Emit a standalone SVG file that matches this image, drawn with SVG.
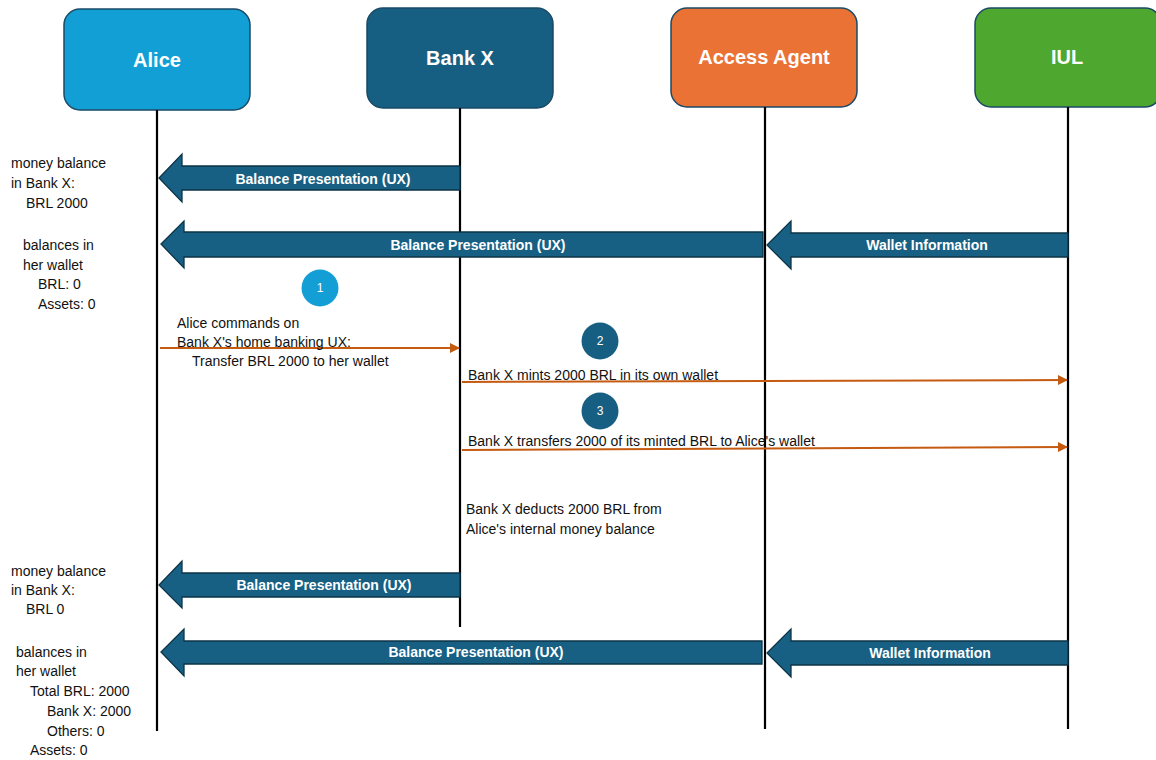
<svg xmlns="http://www.w3.org/2000/svg" width="1156" height="760" viewBox="0 0 1156 760">
<style>
.node rect{stroke:#1a4a66;stroke-width:1.5}
.ntxt{font-family:"Liberation Sans",Arial,sans-serif;font-weight:bold;font-size:20px;fill:#fff;text-anchor:middle}
.life{stroke:#000;stroke-width:2.2;fill:none}
.barrow{fill:#176083;stroke:#0d3347;stroke-width:1.3}
.btxt{font-family:"Liberation Sans",Arial,sans-serif;font-weight:bold;font-size:14px;fill:#fff;text-anchor:middle}
.msg{stroke:#c55a11;stroke-width:2;fill:none;marker-end:url(#oh)}
.t{font-family:"Liberation Sans",Arial,sans-serif;font-size:14px;fill:#111}
.num{font-family:"Liberation Sans",Arial,sans-serif;font-size:12px;fill:#fff;text-anchor:middle}
</style>
<defs>
<marker id="oh" viewBox="0 0 10 10" refX="9" refY="5" markerWidth="5" markerHeight="5" orient="auto" markerUnits="strokeWidth">
<path d="M0,0 L10,5 L0,10 Z" fill="#c55a11"/>
</marker>
</defs>
<rect width="1156" height="760" fill="#fff"/>

<g id="alice" class="node">
<rect x="64" y="9" width="186" height="101" rx="16" fill="#129fd6"/>
<text class="ntxt" x="157" y="67">Alice</text>
</g>
<g id="bankx" class="node">
<rect x="367" y="8" width="186" height="100" rx="16" fill="#175f82"/>
<text class="ntxt" x="460" y="65">Bank X</text>
</g>
<g id="accessagent" class="node">
<rect x="671" y="8" width="186" height="99" rx="16" fill="#ea7234"/>
<text class="ntxt" x="764" y="64">Access Agent</text>
</g>
<g id="iul" class="node">
<rect x="975" y="8" width="186" height="99" rx="16" fill="#4ea72e"/>
<text class="ntxt" x="1067" y="64">IUL</text>
</g>

<g id="connectors">
<line class="life" x1="157" y1="110" x2="157" y2="731"/>
<line class="life" x1="460" y1="108" x2="460" y2="627"/>
<line class="life" x1="765" y1="107" x2="765" y2="729"/>
<line class="life" x1="1068" y1="107" x2="1068" y2="729"/>

<polygon class="barrow" points="460,166 182,166 182,154 159,178 182,202 182,190 460,190"/>
<text class="btxt" x="323" y="184">Balance Presentation (UX)</text>

<polygon class="barrow" points="763,232 184,232 184,221 161,244 184,268 184,257 763,257"/>
<text class="btxt" x="478" y="250">Balance Presentation (UX)</text>

<polygon class="barrow" points="1068,233 791,233 791,221 767,245 791,269 791,257 1068,257"/>
<text class="btxt" x="927" y="250">Wallet Information</text>

<line class="msg" x1="160" y1="348" x2="459" y2="348"/>
<line class="msg" x1="462" y1="382" x2="1067" y2="380"/>
<line class="msg" x1="462" y1="450" x2="1067" y2="447"/>

<polygon class="barrow" points="460,573 182,573 182,561 159,585 182,608 182,597 460,597"/>
<text class="btxt" x="324" y="590">Balance Presentation (UX)</text>

<polygon class="barrow" points="762,641 184,641 184,629 161,652 184,676 184,664 762,664"/>
<text class="btxt" x="476" y="657">Balance Presentation (UX)</text>

<polygon class="barrow" points="1068,641 791,641 791,629 767,653 791,677 791,665 1068,665"/>
<text class="btxt" x="930" y="658">Wallet Information</text>
</g>

<g id="step1">
<circle cx="320" cy="288" r="18.5" fill="#139fd6"/>
<text class="num" x="320" y="292">1</text>
</g>
<g id="step2">
<circle cx="600" cy="341" r="18.5" fill="#175f82"/>
<text class="num" x="600" y="345">2</text>
</g>
<g id="step3">
<circle cx="600" cy="411" r="18.5" fill="#175f82"/>
<text class="num" x="600" y="415">3</text>
</g>

<g id="labels">
<text class="t" x="11" y="168">money balance</text>
<text class="t" x="11" y="188">in Bank X:</text>
<text class="t" x="26" y="208">BRL 2000</text>

<text class="t" x="23" y="250">balances in</text>
<text class="t" x="23" y="270">her wallet</text>
<text class="t" x="38" y="289">BRL: 0</text>
<text class="t" x="38" y="309">Assets: 0</text>

<text class="t" x="177" y="328">Alice commands on</text>
<text class="t" x="177" y="347">Bank X's home banking UX:</text>
<text class="t" x="192" y="366">Transfer BRL 2000 to her wallet</text>

<text class="t" x="468" y="380">Bank X mints 2000 BRL in its own wallet</text>
<text class="t" x="468" y="446">Bank X transfers 2000 of its minted BRL to Alice's wallet</text>

<text class="t" x="466" y="514">Bank X deducts 2000 BRL from</text>
<text class="t" x="466" y="534">Alice's internal money balance</text>

<text class="t" x="11" y="576">money balance</text>
<text class="t" x="11" y="595">in Bank X:</text>
<text class="t" x="26" y="614">BRL 0</text>

<text class="t" x="16" y="657">balances in</text>
<text class="t" x="16" y="676">her wallet</text>
<text class="t" x="30" y="696">Total BRL: 2000</text>
<text class="t" x="47" y="716">Bank X: 2000</text>
<text class="t" x="47" y="736">Others: 0</text>
<text class="t" x="30" y="755">Assets: 0</text>
</g>
</svg>
